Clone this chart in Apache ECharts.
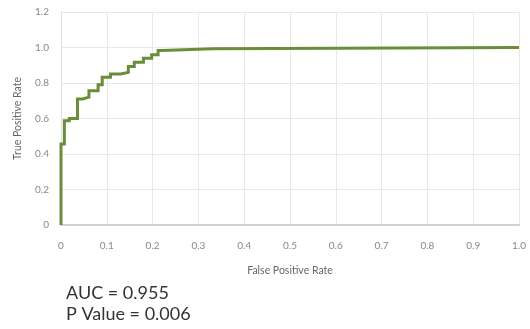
<!DOCTYPE html>
<html><head><meta charset="utf-8">
<script src="https://cdn.jsdelivr.net/npm/echarts@6/dist/echarts.min.js"></script>
<style>html,body{margin:0;padding:0;background:#fff}#c{width:530px;height:329px}</style>
</head><body><div id="c"></div>
<script>
const fpr = [0, 0, 0.0073, 0.018, 0.036, 0.047, 0.061, 0.081, 0.09, 0.108, 0.13, 0.147, 0.16, 0.18, 0.198, 0.212, 0.22, 0.331, 1.0];
const tpr = [0, 0.456, 0.588, 0.60, 0.71, 0.72, 0.757, 0.79, 0.832, 0.851, 0.86, 0.893, 0.917, 0.94, 0.959, 0.983, 0.993, 1.0, 1.0];
const statsLines = ["AUC = 0.955", "P Value = 0.006"];
const xName = "False Positive Rate";
const yName = "True Positive Rate";

// ROC staircase: move right at the old TPR, then up to the new TPR
const curve = [];
fpr.forEach((x, i) => {
  if (i > 0) curve.push([x, tpr[i - 1]]);
  curve.push([x, tpr[i]]);
});

const chart = echarts.init(document.getElementById('c'), null, {renderer:'canvas'});
const fmt = v => v === 0 ? '0' : v.toFixed(1);
chart.setOption({
  animation: false,
  textStyle: {fontFamily: 'Lato'},
  grid: {left: 61, right: 11, top: 12, bottom: 104, containLabel: false},
  xAxis: {
    type: 'value', min: 0, max: 1, interval: 0.1,
    name: xName, nameLocation: 'middle', nameGap: 40,
    nameTextStyle: {color: '#666', fontSize: 10.5, fontFamily: 'Lato'},
    axisLine: {show: true, lineStyle: {color: '#d0d0d0', width: 2}},
    axisTick: {show: false},
    axisLabel: {color: '#888', fontSize: 10, margin: 16, formatter: fmt},
    splitLine: {show: true, lineStyle: {color: '#e8e8e8', width: 1}}
  },
  yAxis: {
    type: 'value', min: 0, max: 1.2, interval: 0.2,
    name: yName, nameLocation: 'middle', nameGap: 38,
    nameTextStyle: {color: '#666', fontSize: 10.5, fontFamily: 'Lato'},
    axisLine: {show: true, lineStyle: {color: '#e0e0e0', width: 1}},
    axisTick: {show: false},
    axisLabel: {color: '#888', fontSize: 10, margin: 12, formatter: fmt},
    splitLine: {show: true, lineStyle: {color: '#e8e8e8', width: 1}}
  },
  series: [{
    type: 'line', showSymbol: false,
    data: curve,
    lineStyle: {color: '#6a8d3a', width: 3, join: 'miter'},
    z: 5
  }],
  graphic: statsLines.map((t, i) => ({
    type: 'text', left: 66, top: 284 + i * 21,
    style: {text: t, fill: '#333', font: '18px Lato'}
  }))
});
</script></body></html>
